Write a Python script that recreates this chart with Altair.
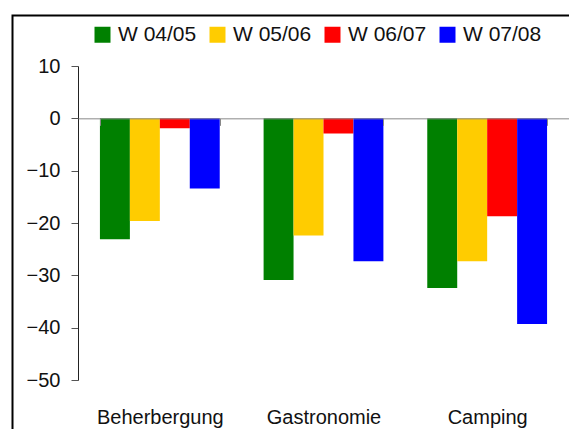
import altair as alt
import pandas as pd

categories = ["Beherbergung", "Gastronomie", "Camping"]
series = ["W 04/05", "W 05/06", "W 06/07", "W 07/08"]
colors = ["#008000", "#FFCC00", "#FF0000", "#0000FF"]
w0405 = [-23.1, -30.9, -32.4]
w0506 = [-19.6, -22.4, -27.3]
w0607 = [-1.9, -2.9, -18.7]
w0708 = [-13.4, -27.3, -39.3]
y_ticks = [-50, -40, -30, -20, -10, 0, 10]

rows = []
for s, vals in zip(series, [w0405, w0506, w0607, w0708]):
    for c, v in zip(categories, vals):
        rows.append({"Bereich": c, "Saison": s, "Wert": v})
df = pd.DataFrame(rows)

FONT = "Liberation Sans"

bars = alt.Chart(df).mark_bar().encode(
    x=alt.X(
        "Bereich:N",
        sort=categories,
        scale=alt.Scale(paddingInner=0.268, paddingOuter=0.134),
        axis=alt.Axis(
            title=None,
            labelAngle=0,
            labelFontSize=20,
            labelFont=FONT,
            labelColor="#111111",
            labelPadding=282,
            domainColor="#888888",
            tickColor="#888888",
            tickSize=7,
            tickBand="extent",
            offset=-261.67,
            zindex=1,
        ),
    ),
    xOffset=alt.XOffset("Saison:N", sort=series),
    y=alt.Y(
        "Wert:Q",
        scale=alt.Scale(domain=[-50, 10], nice=False),
        axis=alt.Axis(
            title=None,
            values=y_ticks,
            labelFontSize=20,
            labelFont=FONT,
            labelColor="#111111",
            labelPadding=11,
            tickSize=7,
            tickColor="#555555",
            domainColor="#222222",
            grid=False,
        ),
    ),
    color=alt.Color(
        "Saison:N",
        sort=series,
        scale=alt.Scale(domain=series, range=colors),
        legend=alt.Legend(
            title=None,
            orient="none",
            direction="horizontal",
            legendX=14,
            legendY=-42,
            padding=0,
            symbolType="square",
            symbolSize=256,
            symbolStrokeWidth=0,
            symbolOpacity=1,
            labelFontSize=21,
            labelFont=FONT,
            labelColor="#111111",
            labelOffset=5,
            columnPadding=10,
            labelLimit=200,
        ),
    ),
)

frame = alt.Chart(pd.DataFrame({"a": [0]})).mark_rect(
    filled=False, stroke="black", strokeWidth=2
).encode(
    x=alt.value(-65.5),
    x2=alt.value(700),
    y=alt.value(-50.5),
    y2=alt.value(700),
)

chart = alt.layer(bars, frame).properties(
    width=491,
    height=314,
    autosize=alt.AutoSizeParams(type="none"),
    padding={"left": 70, "top": 58, "right": 0, "bottom": 49},
    background="white",
).configure_view(stroke=None)

chart.save("out.html", embed_options={"renderer": "svg", "actions": False})
